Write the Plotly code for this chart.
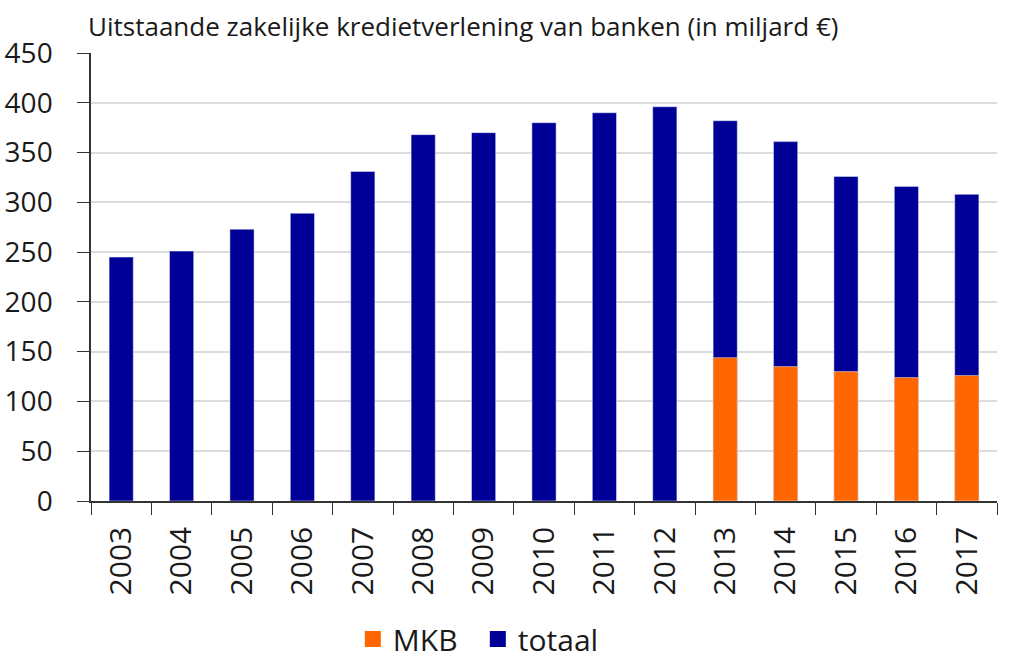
import plotly.graph_objects as go

years = [str(y) for y in range(2003, 2018)]
totaal = [245, 251, 273, 289, 331, 368, 370, 380, 390, 396, 382, 361, 326, 316, 308]
mkb_years = ["2013", "2014", "2015", "2016", "2017"]
mkb = [144, 135, 130, 124, 126]
y_ticks = [0, 50, 100, 150, 200, 250, 300, 350, 400, 450]

BLUE = "#000096"
ORANGE = "#FF6600"
FONT = "Open Sans"

fig = go.Figure()
fig.add_trace(go.Bar(x=years, y=totaal, name="totaal", marker_color=BLUE,
                     width=0.4, showlegend=False))
fig.add_trace(go.Bar(x=mkb_years, y=mkb, name="MKB", marker_color=ORANGE,
                     width=0.4, showlegend=False))
# legend proxies
fig.add_trace(go.Scatter(x=[None], y=[None], mode="markers", name="MKB",
                         marker=dict(symbol="square", size=20, color=ORANGE)))
fig.add_trace(go.Scatter(x=[None], y=[None], mode="markers", name="totaal",
                         marker=dict(symbol="square", size=20, color=BLUE)))

fig.update_layout(
    width=1024, height=669,
    margin=dict(l=91, r=27, t=53, b=168, autoexpand=False),
    barmode="overlay",
    plot_bgcolor="white", paper_bgcolor="white",
    font=dict(family=FONT, color="#1a1a1a", size=30),
    legend=dict(orientation="h", x=0.289, xanchor="left",
                yref="container", y=1 - 639 / 669, yanchor="middle",
                entrywidth=80, entrywidthmode="pixels",
                font=dict(size=30), itemsizing="trace", traceorder="normal"),
    annotations=[dict(text="Uitstaande zakelijke kredietverlening van banken (in miljard €)",
                      xref="paper", yref="paper", x=-0.006, y=(501 - 26) / 448,
                      xanchor="left", yanchor="middle", showarrow=False,
                      font=dict(size=26, family=FONT, color="#1a1a1a"))],
)
fig.update_xaxes(type="category", categoryorder="array", categoryarray=years,
                 tickangle=-90, showline=True, linecolor="#333333", linewidth=1.5,
                 ticks="outside", tickson="boundaries", ticklen=12, tickcolor="#333333",
                 ticklabelstandoff=12,
                 showgrid=False, tickfont=dict(size=30))
fig.update_yaxes(range=[0, 450], tickvals=y_ticks, showline=True, linecolor="#333333",
                 linewidth=1.5, ticks="outside", ticklen=12, tickcolor="#333333",
                 ticklabelstandoff=19,
                 showgrid=True, gridcolor="#dcdcdc", gridwidth=1.5, zeroline=False,
                 tickfont=dict(size=28))

fig.write_html("out.html")
